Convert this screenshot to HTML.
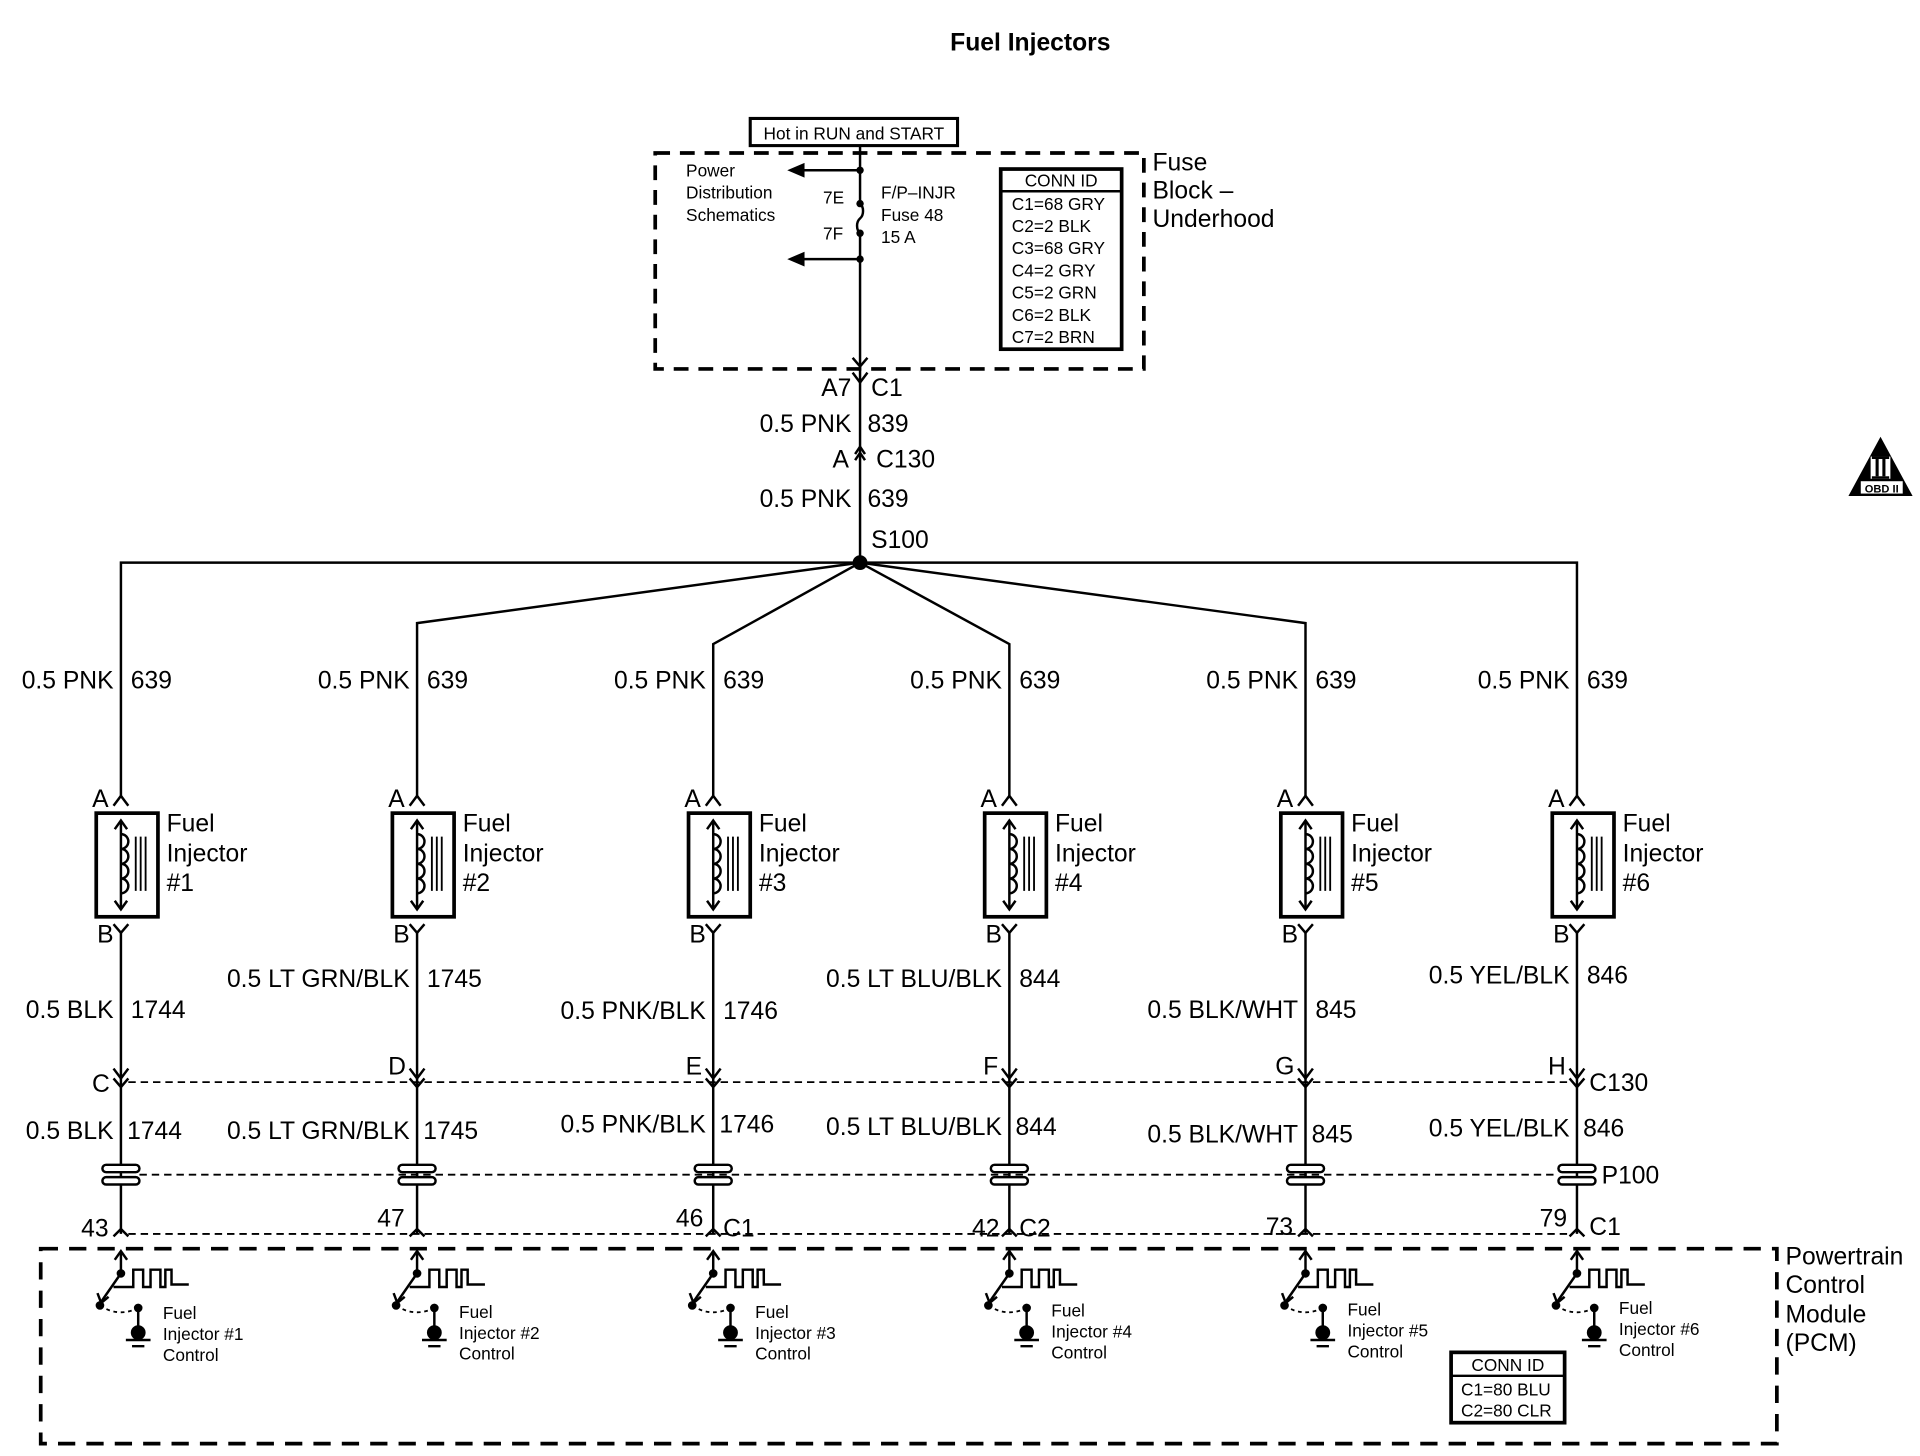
<!DOCTYPE html>
<html><head><meta charset="utf-8"><style>
html,body{margin:0;padding:0;background:#fff;}
svg{display:block;}
text{font-family:"Liberation Sans",Arial,sans-serif;fill:#000;}
</style></head><body>
<svg width="1920" height="1456" viewBox="0 0 1556 1180" preserveAspectRatio="none" xmlns="http://www.w3.org/2000/svg">
<defs>
<g id="inj" fill="none" stroke="#000" stroke-width="2">
  <path d="M-6,653 L0,645 L6,653"/>
  <rect x="-20" y="659" width="50" height="84" stroke-width="3"/>
  <line x1="0" y1="665" x2="0" y2="737"/>
  <path d="M-5,672 L0,665 L5,672 M-5,730 L0,737 L5,730"/>
  <path d="M0,676 a6,6 0 0 1 0,12 a6,6 0 0 1 0,12 a6,6 0 0 1 0,12 a6,6 0 0 1 0,12"/>
  <path d="M12,678 V722 M16,678 V722 M20,678 V722" stroke-width="1.5"/>
  <path d="M-6,749 L0,756 L6,749"/>
  <line x1="0" y1="756" x2="0" y2="1000"/>
  <path d="M-6,866 L0,874 L6,866 M-6,874 L0,881 L6,874"/>
  <rect x="-15" y="944" width="30" height="6" rx="3" fill="#fff"/>
  <rect x="-15" y="954" width="30" height="6" rx="3" fill="#fff"/>
  <path d="M-6,1002 L0,996 L6,1002"/>
  <line x1="0" y1="1014" x2="0" y2="1032"/>
  <path d="M-5,1021 L0,1014 L5,1021"/>
  <line x1="0" y1="1032" x2="-16" y2="1055"/>
  <path d="M-19,1048 L-16,1056 L-10,1051"/>
  <path d="M-6,1043 H10 V1029 H18 V1043 H24 V1029 H32 V1043 H36 V1029 H41 V1041 H55"/>
  <path d="M-17,1058 Q-2,1068 14,1060" stroke-dasharray="3,3" stroke-width="1.5"/>
  <line x1="14" y1="1060" x2="14" y2="1078"/>
  <path d="M4,1086 H24 M9,1091 H19" />
</g>
<g id="dots">
  <circle cx="0" cy="1032" r="3.5"/>
  <circle cx="-17" cy="1058" r="3.5"/>
  <circle cx="14" cy="1060" r="3.5"/>
  <circle cx="14" cy="1080" r="6"/>
</g>
</defs>

<text x="835" y="41" font-size="20" font-weight="bold" text-anchor="middle">Fuel Injectors</text>

<rect x="608" y="96" width="168" height="22" fill="none" stroke="#000" stroke-width="2.5"/>
<text x="692" y="113" font-size="14" text-anchor="middle">Hot in RUN and START</text>
<rect x="531" y="124" width="396" height="175" fill="none" stroke="#000" stroke-width="3" stroke-dasharray="12,8"/>
<g stroke="#000" stroke-width="2" fill="none">
<line x1="697" y1="118" x2="697" y2="165"/>
<path d="M697,165 a5,7 0 0 1 0,12 a5,7 0 0 0 0,12"/>
<line x1="697" y1="189" x2="697" y2="456"/>
<path d="M691,290 L697,297 L703,290 M691,302 L697,310 L703,302"/>
<line x1="650" y1="138" x2="697" y2="138"/>
<line x1="650" y1="210" x2="697" y2="210"/>
<path d="M693,368 L697,362 L701,368 M693,373 L697,367 L701,373"/>
</g>
<polygon points="638,138 652,132 652,144"/>
<polygon points="638,210 652,204 652,216"/>
<circle cx="697" cy="138" r="3"/><circle cx="697" cy="210" r="3"/>
<circle cx="697" cy="165" r="3"/><circle cx="697" cy="189" r="3"/>
<text x="556" y="143" font-size="14">Power</text>
<text x="556" y="161" font-size="14">Distribution</text>
<text x="556" y="179" font-size="14">Schematics</text>
<text x="667" y="165" font-size="14">7E</text>
<text x="667" y="194" font-size="14">7F</text>
<text x="714" y="161" font-size="14">F/P–INJR</text>
<text x="714" y="179" font-size="14">Fuse 48</text>
<text x="714" y="197" font-size="14">15 A</text>
<rect x="811" y="137" width="98" height="146" fill="none" stroke="#000" stroke-width="3"/>
<line x1="811" y1="155" x2="909" y2="155" stroke="#000" stroke-width="2"/>
<g font-size="14">
<text x="860" y="151" text-anchor="middle">CONN ID</text>
<text x="820" y="170">C1=68 GRY</text>
<text x="820" y="188">C2=2 BLK</text>
<text x="820" y="206">C3=68 GRY</text>
<text x="820" y="224">C4=2 GRY</text>
<text x="820" y="242">C5=2 GRN</text>
<text x="820" y="260">C6=2 BLK</text>
<text x="820" y="278">C7=2 BRN</text>
</g>
<g font-size="20">
<text x="934" y="138">Fuse</text>
<text x="934" y="161">Block –</text>
<text x="934" y="184">Underhood</text>
<text x="690" y="321" text-anchor="end">A7</text>
<text x="706" y="321">C1</text>
<text x="690" y="350" text-anchor="end">0.5 PNK</text>
<text x="703" y="350">839</text>
<text x="688" y="379" text-anchor="end">A</text>
<text x="710" y="379">C130</text>
<text x="690" y="411" text-anchor="end">0.5 PNK</text>
<text x="703" y="411">639</text>
<text x="706" y="444">S100</text>
</g>

<polygon points="1524,354 1498,402 1550,402" fill="#000"/>
<rect x="1516" y="370" width="16" height="18" fill="#fff"/>
<rect x="1520" y="372" width="2.5" height="14"/><rect x="1525.5" y="372" width="2.5" height="14"/>
<rect x="1517" y="370" width="14" height="2"/><rect x="1517" y="386" width="14" height="2"/>
<rect x="1508" y="390" width="34" height="10" fill="#fff"/>
<text x="1525" y="399" font-size="9" font-weight="bold" text-anchor="middle">OBD II</text>

<g stroke="#000" stroke-width="2" fill="none">
<path d="M98,645 V456 H1278 V645"/>
<path d="M697,456 L338,505 V645"/>
<path d="M697,456 L578,522 V645"/>
<path d="M697,456 L818,522 V645"/>
<path d="M697,456 L1058,505 V645"/>
<g stroke-width="1.5" stroke-dasharray="6,4">
<line x1="104" y1="877" x2="1272" y2="877"/>
<line x1="113" y1="952" x2="1263" y2="952"/>
<line x1="104" y1="1000" x2="1272" y2="1000"/>
</g>
<rect x="33" y="1012" width="1407" height="158" stroke-width="3" stroke-dasharray="14,9"/>
</g>
<circle cx="697" cy="456" r="6"/>

<use href="#inj" x="98"/><use href="#inj" x="338"/><use href="#inj" x="578"/>
<use href="#inj" x="818"/><use href="#inj" x="1058"/><use href="#inj" x="1278"/>
<use href="#dots" x="98"/><use href="#dots" x="338"/><use href="#dots" x="578"/>
<use href="#dots" x="818"/><use href="#dots" x="1058"/><use href="#dots" x="1278"/>

<g font-size="20">
<text x="92" y="558" text-anchor="end">0.5 PNK</text><text x="106" y="558">639</text>
<text x="332" y="558" text-anchor="end">0.5 PNK</text><text x="346" y="558">639</text>
<text x="572" y="558" text-anchor="end">0.5 PNK</text><text x="586" y="558">639</text>
<text x="812" y="558" text-anchor="end">0.5 PNK</text><text x="826" y="558">639</text>
<text x="1052" y="558" text-anchor="end">0.5 PNK</text><text x="1066" y="558">639</text>
<text x="1272" y="558" text-anchor="end">0.5 PNK</text><text x="1286" y="558">639</text>
<g>
<text x="135" y="674">Fuel</text><text x="135" y="698">Injector</text><text x="135" y="722">#1</text>
<text x="375" y="674">Fuel</text><text x="375" y="698">Injector</text><text x="375" y="722">#2</text>
<text x="615" y="674">Fuel</text><text x="615" y="698">Injector</text><text x="615" y="722">#3</text>
<text x="855" y="674">Fuel</text><text x="855" y="698">Injector</text><text x="855" y="722">#4</text>
<text x="1095" y="674">Fuel</text><text x="1095" y="698">Injector</text><text x="1095" y="722">#5</text>
<text x="1315" y="674">Fuel</text><text x="1315" y="698">Injector</text><text x="1315" y="722">#6</text>
</g>
<text x="88" y="654" text-anchor="end">A</text><text x="328" y="654" text-anchor="end">A</text>
<text x="568" y="654" text-anchor="end">A</text><text x="808" y="654" text-anchor="end">A</text>
<text x="1048" y="654" text-anchor="end">A</text><text x="1268" y="654" text-anchor="end">A</text>
<text x="92" y="764" text-anchor="end">B</text><text x="332" y="764" text-anchor="end">B</text>
<text x="572" y="764" text-anchor="end">B</text><text x="812" y="764" text-anchor="end">B</text>
<text x="1052" y="764" text-anchor="end">B</text><text x="1272" y="764" text-anchor="end">B</text>
<text x="92" y="825" text-anchor="end">0.5 BLK</text><text x="106" y="825">1744</text>
<text x="332" y="800" text-anchor="end">0.5 LT GRN/BLK</text><text x="346" y="800">1745</text>
<text x="572" y="826" text-anchor="end">0.5 PNK/BLK</text><text x="586" y="826">1746</text>
<text x="812" y="800" text-anchor="end">0.5 LT BLU/BLK</text><text x="826" y="800">844</text>
<text x="1052" y="825" text-anchor="end">0.5 BLK/WHT</text><text x="1066" y="825">845</text>
<text x="1272" y="797" text-anchor="end">0.5 YEL/BLK</text><text x="1286" y="797">846</text>
<text x="89" y="885" text-anchor="end">C</text>
<text x="329" y="871" text-anchor="end">D</text>
<text x="569" y="871" text-anchor="end">E</text>
<text x="809" y="871" text-anchor="end">F</text>
<text x="1049" y="871" text-anchor="end">G</text>
<text x="1269" y="871" text-anchor="end">H</text>
<text x="1288" y="884">C130</text>
<text x="92" y="923" text-anchor="end">0.5 BLK</text><text x="103" y="923">1744</text>
<text x="332" y="923" text-anchor="end">0.5 LT GRN/BLK</text><text x="343" y="923">1745</text>
<text x="572" y="918" text-anchor="end">0.5 PNK/BLK</text><text x="583" y="918">1746</text>
<text x="812" y="920" text-anchor="end">0.5 LT BLU/BLK</text><text x="823" y="920">844</text>
<text x="1052" y="926" text-anchor="end">0.5 BLK/WHT</text><text x="1063" y="926">845</text>
<text x="1272" y="921" text-anchor="end">0.5 YEL/BLK</text><text x="1283" y="921">846</text>
<text x="1298" y="959">P100</text>
<text x="88" y="1002" text-anchor="end">43</text>
<text x="328" y="994" text-anchor="end">47</text>
<text x="570" y="994" text-anchor="end">46</text><text x="586" y="1002">C1</text>
<text x="810" y="1002" text-anchor="end">42</text><text x="826" y="1002">C2</text>
<text x="1048" y="1001" text-anchor="end">73</text>
<text x="1270" y="994" text-anchor="end">79</text><text x="1288" y="1001">C1</text>
<text x="1447" y="1025">Powertrain</text>
<text x="1447" y="1048">Control</text>
<text x="1447" y="1072">Module</text>
<text x="1447" y="1095">(PCM)</text>
</g>
<g font-size="14">
<text x="132" y="1069">Fuel</text><text x="132" y="1086">Injector #1</text><text x="132" y="1103">Control</text>
<text x="372" y="1068">Fuel</text><text x="372" y="1085">Injector #2</text><text x="372" y="1102">Control</text>
<text x="612" y="1068">Fuel</text><text x="612" y="1085">Injector #3</text><text x="612" y="1102">Control</text>
<text x="852" y="1067">Fuel</text><text x="852" y="1084">Injector #4</text><text x="852" y="1101">Control</text>
<text x="1092" y="1066">Fuel</text><text x="1092" y="1083">Injector #5</text><text x="1092" y="1100">Control</text>
<text x="1312" y="1065">Fuel</text><text x="1312" y="1082">Injector #6</text><text x="1312" y="1099">Control</text>
</g>
<rect x="1176" y="1096" width="92" height="57" fill="none" stroke="#000" stroke-width="3"/>
<line x1="1176" y1="1115" x2="1268" y2="1115" stroke="#000" stroke-width="2"/>
<g font-size="14">
<text x="1222" y="1111" text-anchor="middle">CONN ID</text>
<text x="1184" y="1131">C1=80 BLU</text>
<text x="1184" y="1148">C2=80 CLR</text>
</g>
</svg>
</body></html>
